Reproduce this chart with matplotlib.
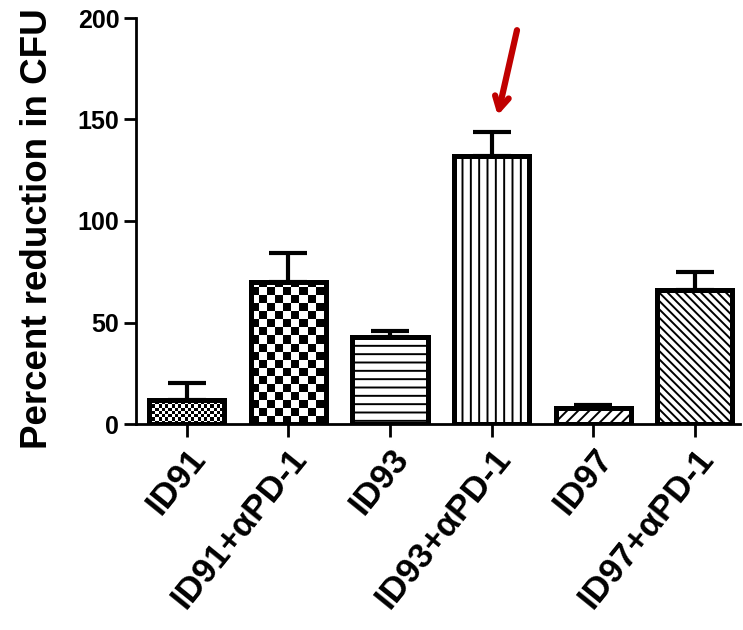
import numpy as np
import matplotlib
matplotlib.use("Agg")
import matplotlib.pyplot as plt

plt.rcParams['font.family'] = ['Liberation Sans', 'DejaVu Sans']
plt.rcParams['font.weight'] = 'bold'
plt.rcParams['hatch.color'] = 'black'
plt.rcParams['hatch.linewidth'] = 1.4

# Data
groups = ["ID91", "ID91+αPD-1", "ID93", "ID93+αPD-1", "ID97", "ID97+αPD-1"]
means = [12, 70, 43, 132, 8, 66]
sems = [8, 14, 3, 12, 1.5, 9]
y_ticks = [0, 50, 100, 150, 200]
hatches = [None, None, "--", "||", "///", "\\\\\\\\"]
checker_px = [3.2, 8.0, None, None, None, None]   # checker cell size in pixels

W, H, DPI = 743, 630, 100
fig = plt.figure(figsize=(W / DPI, H / DPI), dpi=DPI)
ax = fig.add_axes([136 / W, 1 - 424 / H, (740 - 136) / W, (424 - 18) / H])

x = np.arange(len(groups))
bw = 0.74
ax.set_xlim(-0.5, 5.445)
ax.set_ylim(0, 200)

# error bars (upper side only)
ax.errorbar(x, means, yerr=[np.zeros(len(sems)), sems], fmt='none',
            ecolor='black', elinewidth=3.0, capsize=13.5, capthick=3.0, zorder=1)

bars = ax.bar(x, means, width=bw, color='white', edgecolor='black',
              linewidth=0, zorder=2)

fig.canvas.draw()
px_per_x = ax.transData.transform((1, 0))[0] - ax.transData.transform((0, 0))[0]
px_per_y = ax.transData.transform((0, 1))[1] - ax.transData.transform((0, 0))[1]

for i, b in enumerate(bars):
    if checker_px[i] is not None:
        cell = checker_px[i]
        x0 = x[i] - bw / 2
        nx = int(np.ceil(bw * px_per_x / cell)) + 1
        ny = int(np.ceil(means[i] * px_per_y / cell)) + 1
        board = (np.add.outer(np.arange(ny), np.arange(nx)) % 2).astype(float)
        im = ax.imshow(board, cmap='gray', interpolation='nearest', origin='lower',
                       extent=[x0, x0 + nx * cell / px_per_x, 0, ny * cell / px_per_y],
                       aspect='auto', zorder=2.5)
        im.set_clip_path(b)
    elif hatches[i] is not None:
        b.set_hatch(hatches[i])

# bar outlines on top
ax.bar(x, means, width=bw, fill=False, edgecolor='black', linewidth=3.6, zorder=3)
ax.set_xlim(-0.5, 5.445)
ax.set_ylim(0, 200)

for s in ['top', 'right']:
    ax.spines[s].set_visible(False)
for s in ['left', 'bottom']:
    ax.spines[s].set_linewidth(2.0)
ax.spines['bottom'].set_zorder(4)

ax.set_yticks(y_ticks)
ax.set_xticks(x)
ax.set_xticklabels(groups, rotation=51, ha='right', va='top', rotation_mode='anchor',
                   fontsize=25, fontweight='bold')
ax.tick_params(axis='y', length=9, width=2.0, labelsize=18, pad=3)
ax.tick_params(axis='x', length=9, width=2.0, pad=4)
for lab in ax.get_yticklabels():
    lab.set_fontweight('bold')

ax.set_ylabel("Percent reduction in CFU", fontsize=26.5, fontweight='bold')
ax.yaxis.set_label_coords(-0.134, 0.48)

# highlight arrow
ax.annotate("", xy=(3.06, 152), xytext=(3.25, 194),
            arrowprops=dict(arrowstyle="->,head_length=0.9,head_width=0.5",
                            color="#C00000", lw=4.5, shrinkA=0, shrinkB=0),
            annotation_clip=False)

fig.savefig("out.png", dpi=DPI)
